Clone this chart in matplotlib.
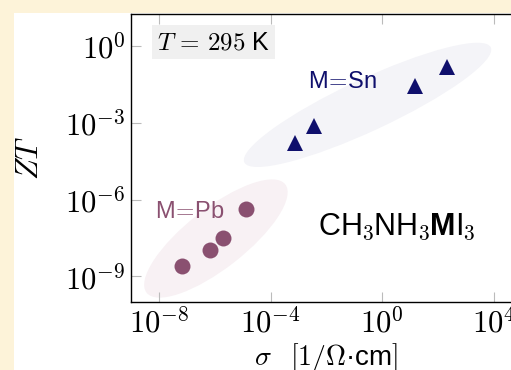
import matplotlib
matplotlib.use("Agg")
import math
import matplotlib.pyplot as plt
from matplotlib import transforms
from matplotlib.patches import Ellipse, Rectangle
from matplotlib.ticker import FuncFormatter

# sigma [1/(Ohm cm)] and ZT at 295 K
sn_sigma = [7.4e-4, 3.5e-3, 14.8, 204.0]
sn_zt = [1.66e-4, 7.6e-4, 2.75e-2, 0.151]
pb_sigma = [6.6e-8, 6.8e-7, 1.95e-6, 1.29e-5]
pb_zt = [2.45e-9, 1.12e-8, 3.3e-8, 4.47e-7]

x_ticks = [1e-8, 1e-4, 1e0, 1e4]
y_ticks = [1e-9, 1e-6, 1e-3, 1e0]

NAVY = "#0f0f6c"
PLUM = "#8a5070"
CREAM = "#fdf3d9"
SANS = "Liberation Sans"

plt.rcParams["mathtext.fontset"] = "cm"
# "custom" math font, used only for the compound formula
plt.rcParams["mathtext.rm"] = "cmr10"
plt.rcParams["mathtext.sf"] = SANS
plt.rcParams["mathtext.bf"] = SANS + ":bold"

W, H = 511, 370
fig = plt.figure(figsize=(W / 100, H / 100), dpi=100, facecolor=CREAM)
fig.add_artist(Rectangle((14 / W, 0), 1, (H - 13) / H, transform=fig.transFigure,
                         facecolor="white", edgecolor="none", zorder=0))

ax = fig.add_axes([131 / W, 68 / H, 391 / W, 288 / H])
ax.set_xscale("log")
ax.set_yscale("log")
ax.set_xlim(1e-9, 1e5)
ax.set_ylim(1e-10, 10 ** 1.25)
ax.set_xticks(x_ticks)
ax.set_yticks(y_ticks)
ax.minorticks_off()

pow10 = FuncFormatter(lambda v, pos: r"$10^{%d}$" % round(math.log10(v)))
ax.xaxis.set_major_formatter(pow10)
ax.yaxis.set_major_formatter(pow10)
ax.tick_params(direction="in", length=7, width=0.8, color="#bbbbbb",
               top=True, right=True, labelsize=22, pad=4)
for sp in ax.spines.values():
    sp.set_linewidth(1.0)


def blob(cx, cy, a_px, b_px, angle, color):
    # ellipse sized in pixels, centred at a data point
    tr = fig.dpi_scale_trans + transforms.ScaledTranslation(cx, cy, ax.transData)
    ax.add_patch(Ellipse((0, 0), 2 * a_px / 100, 2 * b_px / 100, angle=angle,
                         transform=tr, facecolor=color, edgecolor="none", zorder=1))


blob(10 ** -0.53, 10 ** -2.30, 136, 26, 25, "#f4f4f8")
blob(10 ** -5.96, 10 ** -7.52, 88, 30, 38, "#f8f1f4")

ax.plot(sn_sigma, sn_zt, "^", color=NAVY, markersize=12, markeredgewidth=0, zorder=3)
ax.plot(pb_sigma, pb_zt, "o", color=PLUM, markersize=11.5, markeredgewidth=0, zorder=3)

ax.text(0.0665, 0.878, r"$T\,=\,295$ K", transform=ax.transAxes, fontsize=18,
        family=SANS, ha="left", va="baseline",
        bbox=dict(boxstyle="square,pad=0.2", facecolor="#f0f0f0", edgecolor="none"))
ax.text(0.541, 0.743, r"M$\!=\!$Sn", transform=ax.transAxes, fontsize=17,
        family=SANS, color=NAVY, ha="center", va="baseline")
ax.text(0.151, 0.292, r"M$\!=\!$Pb", transform=ax.transAxes, fontsize=17,
        family=SANS, color=PLUM, ha="center", va="baseline")
ax.text(0.680, 0.233,
        r"$\mathsf{CH}_{3}\mathsf{NH}_{3}\mathbf{M}\mathsf{I}_{3}$",
        transform=ax.transAxes, fontsize=22, math_fontfamily="custom",
        ha="center", va="baseline")

ax.set_xlabel(r"$\sigma\;\;\;[1/\Omega$·cm$]$", fontsize=20, family=SANS, labelpad=2)
ax.set_ylabel("$ZT$", fontsize=22, labelpad=15)

fig.savefig("out.png", dpi=100, facecolor=CREAM)
